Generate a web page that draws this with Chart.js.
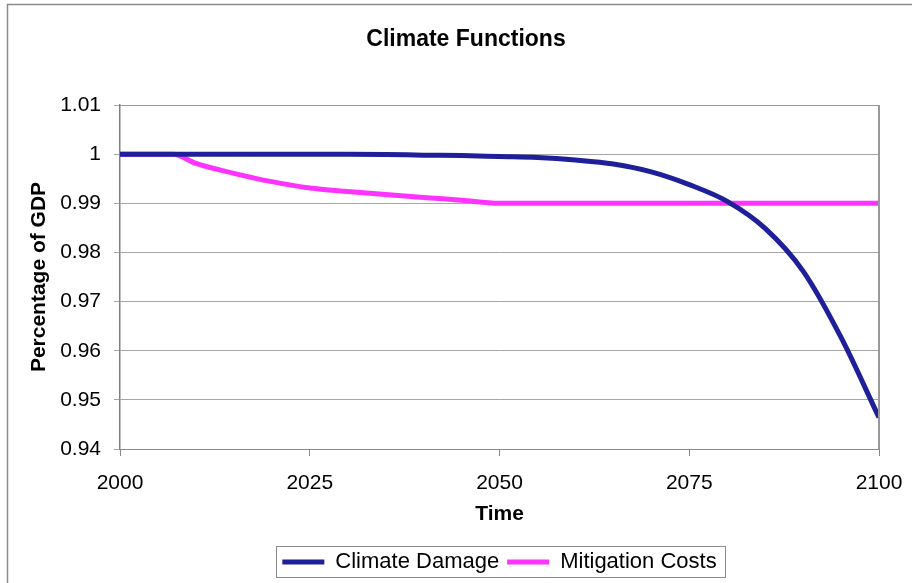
<!DOCTYPE html>
<html>
<head>
<meta charset="utf-8">
<script src="https://cdn.jsdelivr.net/npm/chart.js@4"></script>
<style>
  html, body { margin: 0; padding: 0; background: #fff; }
  #wrap { width: 912px; height: 583px; position: relative; }
</style>
</head>
<body>
<div id="wrap"><canvas id="c" width="912" height="583"></canvas></div>
<script>
const chartTitle = "Climate Functions";
const xAxisTitle = "Time";
const yAxisTitle = "Percentage of GDP";
const seriesNames = ["Climate Damage", "Mitigation Costs"];
const seriesColors = ["#1f1f99", "#ff33ff"];

const damageYears  = [2000, 2010, 2020, 2030, 2035, 2040, 2045, 2050, 2055, 2060, 2065, 2070, 2075, 2080, 2085, 2090, 2095, 2100];
const damageValues = [1.0, 1.0, 1.0, 1.0, 0.99995, 0.9998, 0.9997, 0.9995, 0.9993, 0.9988, 0.9980, 0.9964, 0.9938, 0.9904, 0.9849, 0.9762, 0.9627, 0.9464];

const mitigationYears  = [2000, 2007, 2010, 2015, 2020, 2025, 2030, 2035, 2040, 2045, 2050, 2060, 2070, 2080, 2090, 2100];
const mitigationValues = [1.0, 1.0, 0.9981, 0.9961, 0.9944, 0.9931, 0.9924, 0.9918, 0.9912, 0.9906, 0.9900, 0.9900, 0.9900, 0.9900, 0.9900, 0.9900];

const xTicks = [2000, 2025, 2050, 2075, 2100];
const yTicks = [0.94, 0.95, 0.96, 0.97, 0.98, 0.99, 1.0, 1.01];

const FONT = "'Liberation Sans', Arial, Helvetica, sans-serif";

function toXY(xs, ys) { return xs.map((x, i) => ({ x: x, y: ys[i] })); }

const framePlugin = {
  id: 'frame',
  beforeDraw(chart) {
    const ctx = chart.ctx;
    ctx.save();
    ctx.fillStyle = '#ffffff';
    ctx.fillRect(0, 0, chart.width, chart.height);
    ctx.strokeStyle = '#8a8a8a';
    ctx.lineWidth = 1.5;
    ctx.beginPath();
    ctx.moveTo(7.5, chart.height + 2);
    ctx.lineTo(7.5, 4.5);
    ctx.lineTo(chart.width + 2, 4.5);
    ctx.stroke();
    ctx.fillStyle = '#000';
    ctx.font = "bold 23px " + FONT;
    ctx.textAlign = 'center';
    ctx.textBaseline = 'middle';
    ctx.fillText(chartTitle, 466, 40);
    ctx.restore();
  },
  afterDatasetsDraw(chart) {
    const a = chart.chartArea;
    const ctx = chart.ctx;
    ctx.save();
    ctx.strokeStyle = '#999999';
    ctx.lineWidth = 1;
    ctx.beginPath();
    ctx.moveTo(a.left, a.top + 0.5);
    ctx.lineTo(a.right, a.top + 0.5);
    ctx.stroke();
    ctx.lineWidth = 2;
    ctx.beginPath();
    ctx.moveTo(a.right, a.top);
    ctx.lineTo(a.right, a.bottom);
    ctx.stroke();
    ctx.restore();
  },
  afterDraw(chart) {
    const lg = chart.legend;
    if (!lg || !lg.legendHitBoxes || !lg.legendHitBoxes.length) return;
    const hb = lg.legendHitBoxes;
    let l = Infinity, r = -Infinity, t = Infinity, b = -Infinity;
    hb.forEach(h => { l = Math.min(l, h.left); r = Math.max(r, h.left + h.width); t = Math.min(t, h.top); b = Math.max(b, h.top + h.height); });
    const cy = (t + b) / 2;
    const ctx = chart.ctx;
    ctx.save();
    ctx.strokeStyle = '#8a8a8a';
    ctx.lineWidth = 1;
    ctx.strokeRect(Math.round(l - 6) + 0.5, Math.round(cy - 16) + 0.5, Math.round(r - l + 15), 31);
    ctx.restore();
  }
};

new Chart(document.getElementById('c'), {
  type: 'line',
  data: {
    datasets: [
      {
        label: seriesNames[0],
        data: toXY(damageYears, damageValues),
        borderColor: seriesColors[0],
        backgroundColor: seriesColors[0],
        borderWidth: 5,
        pointRadius: 0,
        cubicInterpolationMode: 'monotone',
        fill: false
      },
      {
        label: seriesNames[1],
        data: toXY(mitigationYears, mitigationValues),
        borderColor: seriesColors[1],
        backgroundColor: seriesColors[1],
        borderWidth: 5,
        pointRadius: 0,
        cubicInterpolationMode: 'monotone',
        fill: false
      }
    ]
  },
  options: {
    responsive: false,
    animation: false,
    devicePixelRatio: 1,
    layout: { padding: { left: 0, right: 33, top: 105, bottom: 0 } },
    plugins: {
      title: { display: false },
      tooltip: { enabled: false },
      legend: {
        display: true,
        position: 'bottom',
        fullSize: false,
        labels: {
          font: { family: FONT, size: 22 },
          color: '#000',
          boxWidth: 42,
          boxHeight: 5,
          padding: 8,
          generateLabels(chart) {
            const items = Chart.defaults.plugins.legend.labels.generateLabels(chart);
            return items.map(it => Object.assign(it, { lineWidth: 0, fillStyle: it.strokeStyle }));
          }
        }
      }
    },
    scales: {
      x: {
        type: 'linear',
        min: 2000,
        max: 2100,
        afterBuildTicks(scale) { scale.ticks = xTicks.map(v => ({ value: v })); },
        afterFit(scale) { scale.height = 94; scale.paddingLeft = 0; scale.paddingRight = 0; },
        ticks: {
          font: { family: FONT, size: 21 },
          color: '#000',
          padding: 15,
          maxRotation: 0,
          callback: v => String(v)
        },
        grid: {
          drawOnChartArea: false,
          drawTicks: true,
          tickLength: 7,
          color: '#8a8a8a',
          lineWidth: 1
        },
        border: { display: true, color: '#8a8a8a', width: 1 },
        title: {
          display: true,
          text: xAxisTitle,
          font: { family: FONT, size: 21, weight: 'bold' },
          color: '#000',
          padding: { top: 0, bottom: 16 }
        }
      },
      y: {
        type: 'linear',
        min: 0.94,
        max: 1.01,
        afterBuildTicks(scale) { scale.ticks = yTicks.map(v => ({ value: v })); },
        afterFit(scale) { scale.width = 120; },
        ticks: {
          font: { family: FONT, size: 21 },
          color: '#000',
          padding: 13,
          callback: v => String(Math.round(v * 100) / 100)
        },
        grid: {
          drawOnChartArea: true,
          drawTicks: true,
          tickLength: 6,
          color: '#a6a6a6',
          lineWidth: 1
        },
        border: { display: true, color: '#808080', width: 1.5 },
        title: {
          display: true,
          text: yAxisTitle,
          font: { family: FONT, size: 21, weight: 'bold' },
          color: '#000',
          padding: { top: 27, bottom: 0 }
        }
      }
    }
  },
  plugins: [framePlugin]
});
</script>
</body>
</html>
